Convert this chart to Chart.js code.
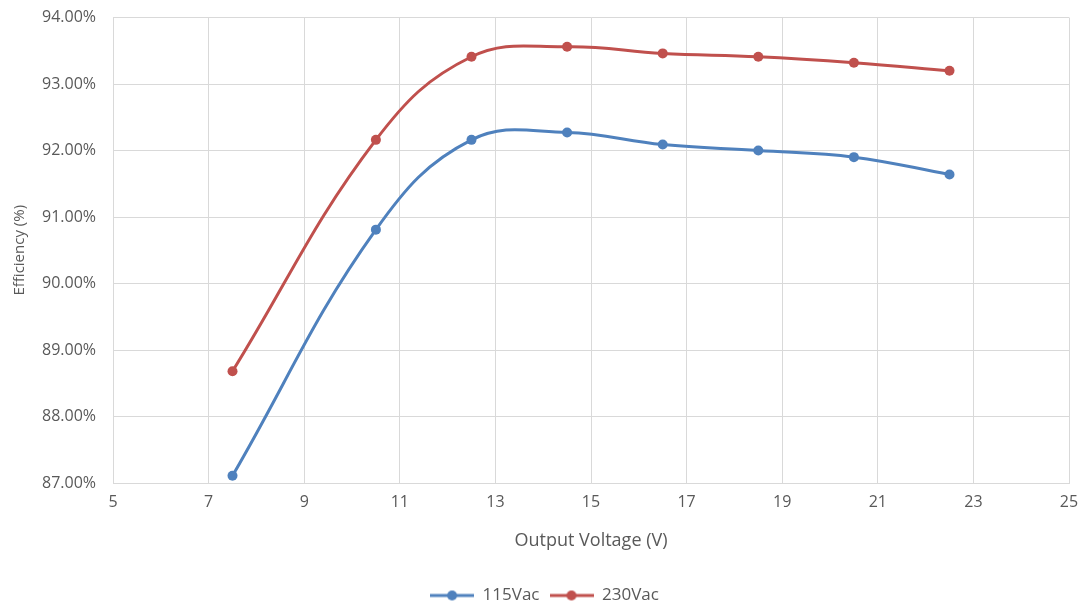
<!DOCTYPE html>
<html>
<head>
<meta charset="utf-8">
<script src="https://cdn.jsdelivr.net/npm/chart.js@4"></script>
<style>
  html, body { margin: 0; padding: 0; background: #fff; }
  #wrap { width: 1081px; height: 606px; }
</style>
</head>
<body>
<div id="wrap"><canvas id="eff-chart" width="1081" height="606"></canvas></div>
<script>
const voltages = [7.5, 10.5, 12.5, 14.5, 16.5, 18.5, 20.5, 22.5];
const eff115 = [87.11, 90.81, 92.16, 92.27, 92.09, 92.00, 91.90, 91.64];
const eff230 = [88.68, 92.16, 93.41, 93.56, 93.46, 93.41, 93.32, 93.20];
const seriesNames = ['115Vac', '230Vac'];
const seriesColors = ['#4f81bd', '#c0504d'];

const grey = '#595959';
const gridGrey = '#d9d9d9';
const fontFamily = "'Open Sans', sans-serif";

// little line-with-dot swatch for the legend
function swatch(color) {
  const c = document.createElement('canvas');
  c.width = 44; c.height = 12;
  const ctx = c.getContext('2d');
  ctx.strokeStyle = color;
  ctx.lineWidth = 3;
  ctx.beginPath();
  ctx.moveTo(0, 6);
  ctx.lineTo(44, 6);
  ctx.stroke();
  ctx.fillStyle = color;
  ctx.beginPath();
  ctx.arc(22, 6, 5, 0, Math.PI * 2);
  ctx.fill();
  return c;
}

function toPoints(ys) {
  return voltages.map((v, i) => ({ x: v, y: ys[i] }));
}

const datasets = [eff115, eff230].map((ys, i) => ({
  label: seriesNames[i],
  data: toPoints(ys),
  borderColor: seriesColors[i],
  backgroundColor: seriesColors[i],
  borderWidth: 3,
  pointRadius: 5,
  pointHoverRadius: 5,
  pointBorderWidth: 0,
  tension: 0.4,
  fill: false
}));

new Chart(document.getElementById('eff-chart'), {
  type: 'line',
  data: { datasets },
  options: {
    responsive: false,
    animation: false,
    layout: { padding: { top: 17.5, right: 12, left: 20, bottom: -8 } },
    plugins: {
      tooltip: { enabled: false },
      legend: {
        position: 'bottom',
        labels: {
          usePointStyle: true,
          pointStyleWidth: 44,
          color: grey,
          font: { family: fontFamily, size: 17 },
          padding: 10,
          generateLabels(chart) {
            const items = Chart.defaults.plugins.legend.labels.generateLabels(chart);
            items.forEach((it, i) => { it.pointStyle = swatch(seriesColors[i]); });
            return items;
          }
        }
      }
    },
    scales: {
      x: {
        type: 'linear',
        min: 5,
        max: 25,
        ticks: {
          stepSize: 2,
          color: grey,
          font: { family: fontFamily, size: 16 },
          padding: 10
        },
        grid: { color: gridGrey, drawTicks: false },
        border: { color: gridGrey },
        title: {
          display: true,
          text: 'Output Voltage (V)',
          color: grey,
          font: { family: fontFamily, size: 18 },
          padding: { top: 10, bottom: 25 }
        },
        afterFit(scale) {
          scale.height = 94;
          scale.paddingLeft = 0;
          scale.paddingRight = 0;
        }
      },
      y: {
        min: 87,
        max: 94,
        ticks: {
          stepSize: 1,
          color: grey,
          font: { family: fontFamily, size: 16 },
          padding: 17,
          callback: v => v.toFixed(2) + '%'
        },
        grid: { color: gridGrey, drawTicks: false },
        border: { color: gridGrey },
        title: {
          display: true,
          text: 'Efficiency (%)',
          color: grey,
          font: { family: fontFamily, size: 15 },
          padding: { top: -9, bottom: 0 }
        },
        afterFit(scale) {
          scale.width = 93;
          scale.paddingTop = 0;
          scale.paddingBottom = 0;
        }
      }
    }
  }
});
</script>
</body>
</html>
